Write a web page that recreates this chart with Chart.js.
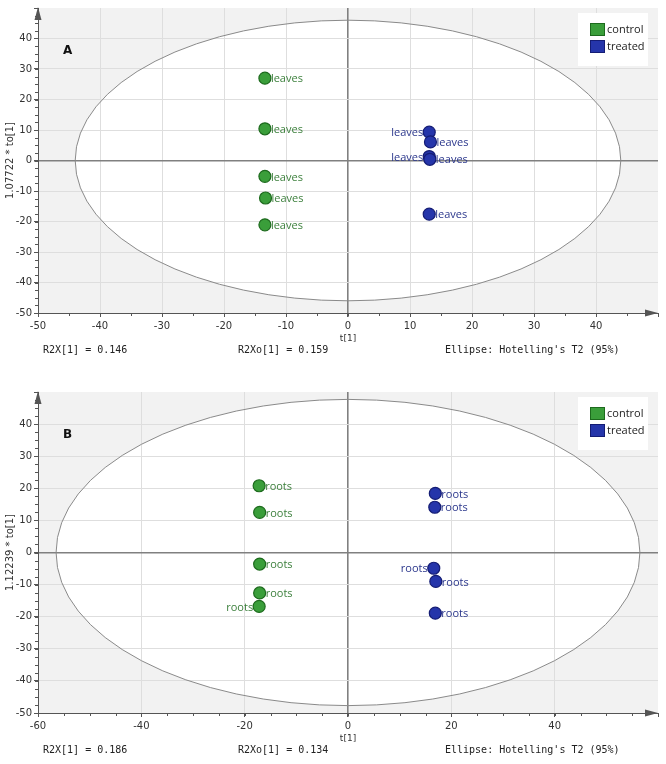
<!DOCTYPE html>
<html>
<head>
<meta charset="utf-8">
<script src="https://cdn.jsdelivr.net/npm/chart.js@4.4.1/dist/chart.umd.min.js"></script>
<style>
  body { margin: 0; background: #fff; width: 666px; height: 764px; position: relative; overflow: hidden; }
  .panel { position: absolute; left: 0; width: 666px; }
</style>
</head>
<body>
<div class="panel" style="top:0;height:362px"><canvas id="chartA"></canvas></div>
<div class="panel" style="top:364px;height:400px"><canvas id="chartB"></canvas></div>
<script>
// panel A - leaves
const leavesControlX = [-13.4, -13.4, -13.4, -13.3, -13.4];
const leavesControlY = [27.0, 10.4, -5.2, -12.3, -21.1];
const leavesTreatedX = [13.1, 13.3, 13.1, 13.2, 13.1];
const leavesTreatedY = [9.3, 6.1, 1.3, 0.4, -17.6];
const leavesControlSide = ['r', 'r', 'r', 'r', 'r'];
const leavesTreatedSide = ['l', 'r', 'l', 'r', 'r'];

// panel B - roots
const rootsControlX = [-17.2, -17.1, -17.1, -17.1, -17.2];
const rootsControlY = [20.8, 12.5, -3.6, -12.6, -16.8];
const rootsTreatedX = [16.9, 16.8, 16.6, 17.0, 16.9];
const rootsTreatedY = [18.4, 14.1, -4.9, -9.0, -18.9];
const rootsControlSide = ['r', 'r', 'r', 'r', 'l'];
const rootsTreatedSide = ['r', 'r', 'l', 'r', 'r'];

// Hotelling T2 ellipse semi axes
const ellipseA = [44, 46];
const ellipseB = [56.5, 47.7];

const groupNames = ['control', 'treated'];
const statsA = ['R2X[1] = 0.146', 'R2Xo[1] = 0.159', "Ellipse: Hotelling's T2 (95%)"];
const statsB = ['R2X[1] = 0.186', 'R2Xo[1] = 0.134', "Ellipse: Hotelling's T2 (95%)"];

const GREEN = '#3a9e3a', GREEN_EDGE = '#1d6a1d', GREEN_TEXT = '#3b7f3b';
const BLUE = '#2535aa', BLUE_EDGE = '#141c74', BLUE_TEXT = '#2b378c';

const toPoints = (xs, ys) => xs.map((x, i) => ({ x, y: ys[i] }));

const decor = {
    id: 'decor',
    beforeDraw(chart, args, o) {
        const { ctx, chartArea: a, scales: { x, y } } = chart;
        ctx.save();
        ctx.fillStyle = '#f2f2f2';
        ctx.fillRect(a.left, a.top, a.right - a.left, a.bottom - a.top);
        const cx = x.getPixelForValue(0), cy = y.getPixelForValue(0);
        ctx.beginPath();
        ctx.ellipse(cx, cy, x.getPixelForValue(o.ellipse[0]) - cx, cy - y.getPixelForValue(o.ellipse[1]), 0, 0, Math.PI * 2);
        ctx.fillStyle = '#fff';
        ctx.fill();
        ctx.restore();
    },
    beforeDatasetsDraw(chart, args, o) {
        const { ctx, chartArea: a, scales: { x, y } } = chart;
        const cx = x.getPixelForValue(0), cy = y.getPixelForValue(0);
        ctx.save();
        // ellipse outline
        ctx.beginPath();
        ctx.ellipse(cx, cy, x.getPixelForValue(o.ellipse[0]) - cx, cy - y.getPixelForValue(o.ellipse[1]), 0, 0, Math.PI * 2);
        ctx.strokeStyle = '#8a8a8a';
        ctx.lineWidth = 1;
        ctx.stroke();

        // minor ticks
        ctx.strokeStyle = '#555';
        ctx.beginPath();
        for (let v = x.min; v <= x.max; v += o.minorX) {
            const px = Math.round(x.getPixelForValue(v)) + 0.5;
            ctx.moveTo(px, a.bottom); ctx.lineTo(px, a.bottom + 3);
        }
        for (let v = y.min; v <= y.max; v += o.minorY) {
            const py = Math.round(y.getPixelForValue(v)) + 0.5;
            ctx.moveTo(a.left, py); ctx.lineTo(a.left - 3, py);
        }
        ctx.stroke();

        // axis arrows
        ctx.fillStyle = '#555';
        ctx.beginPath();
        ctx.moveTo(a.left, a.top - 1);
        ctx.lineTo(a.left - 3.5, a.top + 12);
        ctx.lineTo(a.left + 3.5, a.top + 12);
        ctx.closePath();
        ctx.fill();
        ctx.beginPath();
        ctx.moveTo(a.right, a.bottom);
        ctx.lineTo(a.right - 13, a.bottom - 3.5);
        ctx.lineTo(a.right - 13, a.bottom + 3.5);
        ctx.closePath();
        ctx.fill();
        ctx.restore();
    },
    afterDatasetsDraw(chart) {
        const { ctx } = chart;
        ctx.save();
        ctx.font = '11px "Open Sans"';
        ctx.textBaseline = 'middle';
        chart.data.datasets.forEach((ds, i) => {
            ctx.fillStyle = ds.textColor;
            chart.getDatasetMeta(i).data.forEach((pt, j) => {
                const left = ds.sides[j] === 'l';
                ctx.textAlign = left ? 'right' : 'left';
                ctx.fillText(ds.pointText, pt.x + (left ? -6 : 6), pt.y + 1);
            });
        });
        ctx.restore();
    },
    afterDraw(chart, args, o) {
        const { ctx, chartArea: a } = chart;
        ctx.save();
        // legend
        const bx = a.right - 80, by = a.top + 5;
        ctx.fillStyle = '#fff';
        ctx.fillRect(bx, by, 70, 53);
        ctx.font = '11px "Open Sans"';
        ctx.textBaseline = 'middle';
        ctx.textAlign = 'left';
        chart.data.datasets.forEach((ds, i) => {
            const sy = a.top + 15 + i * 17;
            ctx.fillStyle = ds.backgroundColor;
            ctx.fillRect(bx + 12, sy, 15, 13);
            ctx.strokeStyle = ds.borderColor;
            ctx.strokeRect(bx + 12.5, sy + 0.5, 14, 12);
            ctx.fillStyle = '#222';
            ctx.fillText(ds.label, bx + 29, sy + 6.5);
        });
        // panel letter
        ctx.font = 'bold 12px "DejaVu Sans"';
        ctx.fillStyle = '#111';
        ctx.fillText(o.letter, a.left + 25, a.top + 43);
        // stats line
        ctx.font = '10px "DejaVu Sans Mono"';
        ctx.fillStyle = '#222';
        ctx.textBaseline = 'alphabetic';
        const cols = [a.left + 5, a.left + 200, a.left + 407];
        o.stats.forEach((s, i) => ctx.fillText(s, cols[i], a.bottom + 40));
        ctx.restore();
    }
};

const makeChart = (id, opts) => {
    const hideEdge = (scaleMax) => (c) => (c.tick && c.tick.value >= scaleMax ? 'rgba(0,0,0,0)' : (c.tick && c.tick.value === 0 ? '#808080' : '#dedede'));
    const datasets = [
        {
            label: groupNames[0], data: toPoints(opts.cx, opts.cy), sides: opts.cSide, pointText: opts.pointText,
            backgroundColor: GREEN, borderColor: GREEN_EDGE, textColor: GREEN_TEXT
        },
        {
            label: groupNames[1], data: toPoints(opts.tx, opts.ty), sides: opts.tSide, pointText: opts.pointText,
            backgroundColor: BLUE, borderColor: BLUE_EDGE, textColor: BLUE_TEXT
        }
    ];
    return new Chart(document.getElementById(id), {
        type: 'scatter',
        data: { datasets },
        options: {
            responsive: true,
            maintainAspectRatio: false,
            animation: false,
            layout: { padding: { top: opts.top, right: 8, left: 0, bottom: 0 } },
            elements: { point: { radius: 6, borderWidth: 1.2, hoverRadius: 6 } },
            plugins: {
                legend: { display: false },
                tooltip: { enabled: false },
                decor: { ellipse: opts.ellipse, minorX: opts.minorX, minorY: 2.5, letter: opts.letter, stats: opts.stats }
            },
            scales: {
                x: {
                    type: 'linear', min: opts.xMin, max: opts.xMax,
                    afterFit: (s) => { s.height = opts.bottomH; },
                    ticks: {
                        stepSize: opts.xStep, autoSkip: false, padding: 3, color: '#333',
                        font: { family: 'DejaVu Sans', size: 10 },
                        callback: (v) => (v >= opts.xMax ? '' : v)
                    },
                    grid: {
                        color: hideEdge(opts.xMax), lineWidth: (c) => (c.tick && c.tick.value === 0 ? 1.6 : 1),
                        tickLength: 4, tickColor: '#555'
                    },
                    border: { display: true, color: '#555', width: 1 },
                    title: { display: true, text: 't[1]', color: '#333', font: { family: 'DejaVu Sans', size: 9 }, padding: { top: 0, bottom: opts.bottomH - 31 } }
                },
                y: {
                    type: 'linear', min: -50, max: 50,
                    afterFit: (s) => { s.width = 38; },
                    ticks: {
                        stepSize: 10, autoSkip: false, padding: 2, color: '#333',
                        font: { family: 'DejaVu Sans', size: 10 },
                        callback: (v) => (v >= 50 ? '' : v)
                    },
                    grid: {
                        color: hideEdge(50), lineWidth: (c) => (c.tick && c.tick.value === 0 ? 1.6 : 1),
                        tickLength: 4, tickColor: '#555'
                    },
                    border: { display: true, color: '#555', width: 1 },
                    title: { display: true, text: opts.yTitle, color: '#333', font: { family: 'DejaVu Sans', size: 10 }, padding: { top: 4, bottom: 0 } }
                }
            }
        },
        plugins: [decor]
    });
};

makeChart('chartA', {
    cx: leavesControlX, cy: leavesControlY, tx: leavesTreatedX, ty: leavesTreatedY,
    cSide: leavesControlSide, tSide: leavesTreatedSide, pointText: 'leaves',
    ellipse: ellipseA, xMin: -50, xMax: 50, xStep: 10, minorX: 5,
    top: 5, bottomH: 49, letter: 'A', stats: statsA, yTitle: '1.07722 * to[1]'
});

makeChart('chartB', {
    cx: rootsControlX, cy: rootsControlY, tx: rootsTreatedX, ty: rootsTreatedY,
    cSide: rootsControlSide, tSide: rootsTreatedSide, pointText: 'roots',
    ellipse: ellipseB, xMin: -60, xMax: 60, xStep: 20, minorX: 5,
    top: 28, bottomH: 51, letter: 'B', stats: statsB, yTitle: '1.12239 * to[1]'
});
</script>
</body>
</html>
